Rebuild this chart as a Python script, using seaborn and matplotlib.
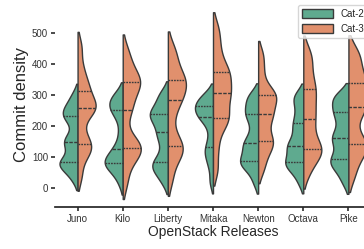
import pandas as pd
import seaborn as sns
import matplotlib.pyplot as plt

releases = ["Juno", "Kilo", "Liberty", "Mitaka", "Newton", "Octava", "Pike"]
categories = ["Cat-2", "Cat-3"]

# commit counts per release
juno_cat2 = [30, 60, 72, 78, 85, 95, 130, 145, 155, 170, 215, 230, 240, 255, 270, 300]
juno_cat3 = [40, 100, 125, 135, 145, 180, 235, 252, 262, 266, 275, 310, 325, 350, 390, 455]
kilo_cat2 = [20, 55, 70, 78, 82, 88, 100, 120, 135, 180, 230, 250, 262, 275, 290, 300]
kilo_cat3 = [20, 80, 110, 122, 130, 140, 160, 240, 265, 300, 330, 340, 350, 360, 400, 440]
liberty_cat2 = [20, 50, 65, 75, 85, 110, 150, 170, 190, 215, 230, 238, 245, 260, 290, 305]
liberty_cat3 = [30, 90, 115, 128, 140, 170, 230, 275, 290, 310, 335, 345, 355, 380, 420, 450]
mitaka_cat2 = [20, 70, 100, 120, 135, 170, 210, 225, 232, 245, 255, 262, 268, 280, 295, 300]
mitaka_cat3 = [60, 130, 190, 215, 230, 245, 280, 300, 310, 330, 360, 370, 385, 420, 465, 515]
newton_cat2 = [20, 60, 75, 82, 90, 105, 130, 140, 150, 175, 210, 235, 245, 265, 290, 300]
newton_cat3 = [60, 100, 130, 145, 155, 180, 215, 232, 245, 270, 290, 298, 305, 330, 380, 430]
octava_cat2 = [20, 55, 70, 78, 85, 100, 125, 132, 142, 160, 190, 205, 230, 260, 290, 300]
octava_cat3 = [50, 90, 110, 120, 130, 145, 180, 210, 235, 260, 290, 315, 335, 370, 410, 440]
pike_cat2 = [20, 55, 75, 85, 95, 115, 145, 158, 168, 190, 220, 240, 255, 275, 295, 300]
pike_cat3 = [40, 90, 120, 135, 145, 170, 230, 255, 265, 290, 320, 335, 355, 380, 420, 440]

groups = {
    ("Juno", "Cat-2"): juno_cat2, ("Juno", "Cat-3"): juno_cat3,
    ("Kilo", "Cat-2"): kilo_cat2, ("Kilo", "Cat-3"): kilo_cat3,
    ("Liberty", "Cat-2"): liberty_cat2, ("Liberty", "Cat-3"): liberty_cat3,
    ("Mitaka", "Cat-2"): mitaka_cat2, ("Mitaka", "Cat-3"): mitaka_cat3,
    ("Newton", "Cat-2"): newton_cat2, ("Newton", "Cat-3"): newton_cat3,
    ("Octava", "Cat-2"): octava_cat2, ("Octava", "Cat-3"): octava_cat3,
    ("Pike", "Cat-2"): pike_cat2, ("Pike", "Cat-3"): pike_cat3,
}

rows = []
for (rel, cat), vals in groups.items():
    for v in vals:
        rows.append({"release": rel, "category": cat, "commits": v})
df = pd.DataFrame(rows)

sns.set_theme(style="ticks")
plt.rcParams['font.family'] = ['Liberation Sans', 'DejaVu Sans']

fig = plt.figure(figsize=(3.64, 2.49), dpi=100)
ax = fig.add_axes([55 / 364, 42 / 249, 316 / 364, 205 / 249])

sns.violinplot(data=df, x="release", y="commits", hue="category",
               order=releases, hue_order=categories, split=True,
               inner="quart", palette=["#52b692", "#f4885a"],
               density_norm="width", bw_adjust=0.5, cut=1.5,
               linewidth=1, linecolor="#3a3a3a", width=0.8, ax=ax)

ax.set_xlim(-0.5, 6.5)
ax.set_ylim(-61, 600)
ax.set_yticks([0, 100, 200, 300, 400, 500])
ax.tick_params(axis="both", labelsize=7, length=3, pad=2, colors="#333333")
ax.set_xlabel("OpenStack Releases", fontsize=10, labelpad=1)
ax.set_ylabel("Commit density", fontsize=12, labelpad=2)
sns.despine(ax=ax, left=True)
ax.legend(loc="upper right", fontsize=7, frameon=True, handlelength=3.2,
          handleheight=1.1, borderaxespad=0.3)

fig.savefig("out.png", dpi=100)
